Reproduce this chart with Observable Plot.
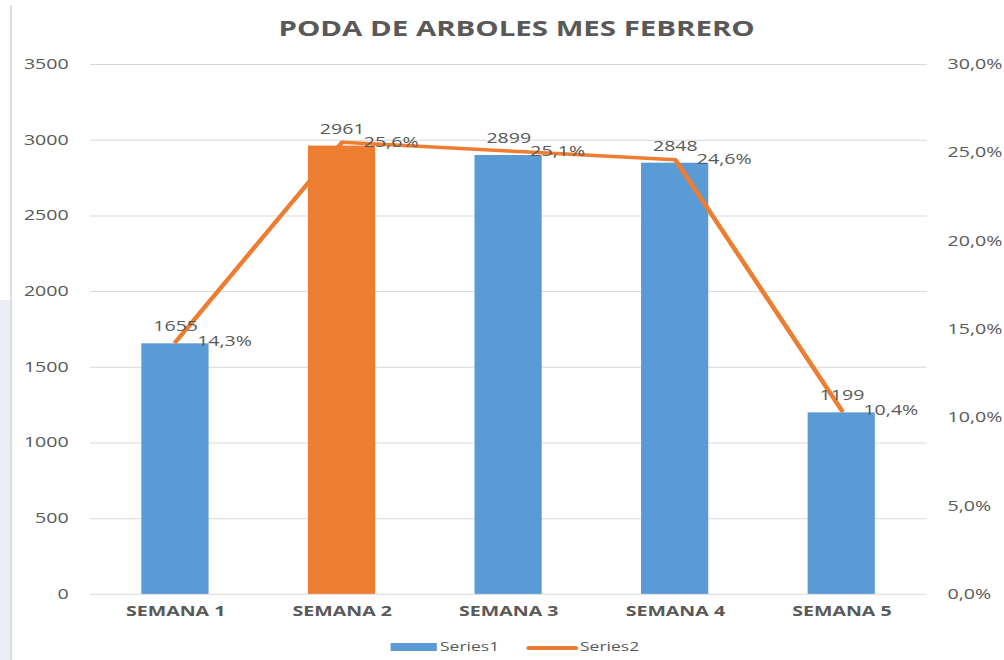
<!DOCTYPE html>
<html>
<head>
<meta charset="utf-8">
<script src="https://cdn.jsdelivr.net/npm/d3@7"></script>
<script src="https://cdn.jsdelivr.net/npm/@observablehq/plot@0.6"></script>
<style>
  body { margin: 0; background: #fff; }
  #wrap { position: relative; width: 1004px; height: 660px; overflow: hidden; background: #fff; }
  #edge { position: absolute; left: 10px; top: 5px; width: 2px; height: 655px; background: #dedede; }
  #strip { position: absolute; left: 0; top: 300px; width: 10px; height: 360px; background: #eceef5; }
  #stretch { position: absolute; left: 0; top: 0; width: 717px; height: 660px; transform: scaleX(1.4); transform-origin: 0 0; font-family: "Open Sans", sans-serif; }
  #title { position: absolute; left: 0; width: 738px; top: 14px; text-align: center; font-size: 21px; font-weight: bold; color: #595959; line-height: 28px; }
  #chart { position: absolute; left: 0; top: 0; }
  .lg { position: absolute; }
  .lgtext { position: absolute; top: 638px; font-size: 12.5px; color: #595959; line-height: 18px; }
</style>
</head>
<body>
<div id="wrap">
  <div id="strip"></div>
  <div id="edge"></div>
  <div id="stretch">
    <div id="chart"></div>
    <div id="title">PODA DE ARBOLES MES FEBRERO</div>
    <div id="legend"></div>
  </div>
</div>
<script>
const semanas = ["SEMANA 1", "SEMANA 2", "SEMANA 3", "SEMANA 4", "SEMANA 5"];
const cantidad = [1655, 2961, 2899, 2848, 1199];
const porcentaje = [14.3, 25.6, 25.1, 24.6, 10.4];
const barColors = ["#5B9BD5", "#ED7D31", "#5B9BD5", "#5B9BD5", "#5B9BD5"];
const yTicks = [0, 500, 1000, 1500, 2000, 2500, 3000, 3500];
const pctTicks = [0, 5, 10, 15, 20, 25, 30];
const seriesNames = ["Series1", "Series2"];

const yMax = 3500, pctMax = 30;
const S = 1.4; // horizontal stretch of the reference
const pctToY = d3.scaleLinear([0, pctMax], [0, yMax]);
const fmtPct = v => v.toFixed(1).replace(".", ",") + "%";

const data = semanas.map((s, i) => ({
  semana: s,
  cantidad: cantidad[i],
  pct: porcentaje[i],
  pctY: pctToY(porcentaje[i]),
  color: barColors[i]
}));

const W = 1004 / S;
const chart = Plot.plot({
  width: W,
  height: 660,
  marginTop: 64,
  marginBottom: 66,
  marginLeft: 90 / S,
  marginRight: W - 927 / S,
  style: { fontFamily: "'Open Sans', sans-serif", fontSize: "14px", color: "#595959", background: "transparent" },
  x: { domain: semanas, paddingInner: 0.6, paddingOuter: 0.3, label: null },
  y: { domain: [0, yMax], label: null },
  color: { type: "identity" },
  marks: [
    Plot.gridY(yTicks, { stroke: "#d9d9d9", strokeOpacity: 1, strokeWidth: 1 }),
    Plot.axisY(yTicks, { anchor: "left", tickSize: 0, tickPadding: 22 / S, fontSize: 14, fill: "#595959", label: null, tickFormat: d => String(d) }),
    Plot.axisY(pctTicks.map(p => pctToY(p)), { anchor: "right", tickSize: 0, tickPadding: 20 / S, fontSize: 14, fill: "#595959", label: null, tickFormat: d => fmtPct(pctToY.invert(d)) }),
    Plot.axisX({ tickSize: 0, tickPadding: 12, fontSize: 14, fontWeight: "bold", fill: "#595959", label: null }),
    Plot.barY(data, { x: "semana", y: "cantidad", fill: "color" }),
    Plot.lineY(data, { x: "semana", y: "pctY", stroke: "#ED7D31", strokeWidth: 3.5, strokeLinejoin: "round" }),
    Plot.text(data, { x: "semana", y: "cantidad", text: d => String(d.cantidad), dy: -17, fontSize: 14, fill: "#595959" }),
    Plot.text(data, { x: "semana", y: "pctY", text: d => fmtPct(d.pct), dx: 21.5 / S, textAnchor: "start", fontSize: 14, fill: "#595959" })
  ]
});
document.getElementById("chart").appendChild(chart);

// legend
const lg = document.getElementById("legend");
lg.innerHTML = `
  <div class="lg" style="left:${390/S}px; top:643px; width:${47/S}px; height:8px; background:${barColors[0]}"></div>
  <div class="lgtext" style="left:${440/S}px">${seriesNames[0]}</div>
  <div class="lg" style="left:${527/S}px; top:646px; width:${51/S}px; height:3.5px; background:#ED7D31; border-radius:2px"></div>
  <div class="lgtext" style="left:${580/S}px">${seriesNames[1]}</div>
`;
</script>
</body>
</html>
